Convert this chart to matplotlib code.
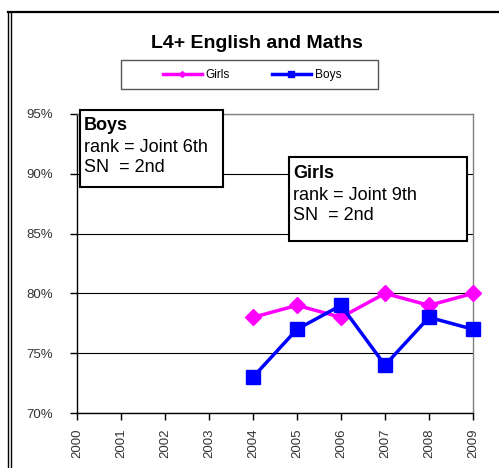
import matplotlib
matplotlib.use('Agg')
from matplotlib import pyplot as plt
from matplotlib.lines import Line2D

plt.rcParams['font.family'] = ['Liberation Sans', 'DejaVu Sans']

# data
years = ['2000', '2001', '2002', '2003', '2004', '2005', '2006', '2007', '2008', '2009']
girl_years = [4, 5, 6, 7, 8, 9]
girls = [78, 79, 78, 80, 79, 80]
boy_years = [4, 5, 6, 7, 8, 9]
boys = [73, 77, 79, 74, 78, 77]
yticks = [70, 75, 80, 85, 90, 95]

W, H = 499, 468
fig = plt.figure(figsize=(W / 100, H / 100), dpi=100)

# outer chart frame (double line on the left, single on top)
for x in [8, 10.5]:
    fig.add_artist(Line2D([x / W, x / W], [0, 1 - 12 / H], color='black', lw=1.0))
fig.add_artist(Line2D([8 / W, 1], [1 - 12 / H, 1 - 12 / H], color='black', lw=1.6))

ax = fig.add_axes([77 / W, 1 - 413 / H, (473 - 77) / W, (413 - 114) / H])

ax.plot(girl_years, girls, color='#ff00ff', lw=2.5, marker='D', ms=8.5, zorder=3, clip_on=False)
ax.plot(boy_years, boys, color='#0000ff', lw=2.5, marker='s', ms=10, zorder=4, clip_on=False)

ax.set_xlim(0, 9)
ax.set_ylim(70, 95)
ax.set_xticks(range(len(years)))
ax.set_xticklabels(years, rotation=90, fontsize=9.5, color='#333333')
ax.set_yticks(yticks)
ax.set_yticklabels([str(v) + '%' for v in yticks], fontsize=9.5, color='#333333')
ax.yaxis.grid(True, color='black', lw=0.8)
ax.set_axisbelow(True)
ax.tick_params(axis='both', direction='out', length=5, width=1, color='black')
ax.tick_params(axis='y', pad=12)
ax.tick_params(axis='x', pad=6)
ax.spines['top'].set_color('#808080')
ax.spines['right'].set_color('#808080')
ax.spines['left'].set_color('black')
ax.spines['bottom'].set_color('black')
for s in ax.spines.values():
    s.set_linewidth(1.0)

fig.text(257 / W, 1 - 43 / H, 'L4+ English and Maths', ha='center', va='center',
         fontsize=14, fontweight='bold')

# legend box
fig.add_artist(plt.Rectangle((121 / W, 1 - 89 / H), (378 - 121) / W, (89 - 60) / H,
                             facecolor='white', edgecolor='#555555', lw=1.0))
handles = [Line2D([], [], color='#ff00ff', lw=2.5, marker='D', ms=3),
           Line2D([], [], color='#0000ff', lw=2.5, marker='s', ms=4)]
leg = fig.legend(handles, ['Girls', 'Boys'], loc='center', ncol=2,
                 bbox_to_anchor=(252 / W, 1 - 75 / H), fontsize=8.6,
                 frameon=False, columnspacing=3.5, handlelength=3.3, handletextpad=0.3)

# text boxes
for (x0, y0, x1, y1) in [(80, 110, 223, 187), (289, 157, 467, 241)]:
    fig.add_artist(plt.Rectangle((x0 / W, 1 - y1 / H), (x1 - x0) / W, (y1 - y0) / H,
                                 facecolor='white', edgecolor='black', lw=1.5, zorder=5))
fig.text(84 / W, 1 - 125 / H, 'Boys', ha='left', va='center', fontsize=13, fontweight='bold', zorder=6)
fig.text(84 / W, 1 - 147 / H, 'rank = Joint 6th', ha='left', va='center', fontsize=13, zorder=6)
fig.text(84 / W, 1 - 168 / H, 'SN  = 2nd', ha='left', va='center', fontsize=13, zorder=6)
fig.text(293 / W, 1 - 173 / H, 'Girls', ha='left', va='center', fontsize=13, fontweight='bold', zorder=6)
fig.text(293 / W, 1 - 195 / H, 'rank = Joint 9th', ha='left', va='center', fontsize=13, zorder=6)
fig.text(293 / W, 1 - 216 / H, 'SN  = 2nd', ha='left', va='center', fontsize=13, zorder=6)

fig.savefig('out.png', dpi=100, facecolor='white')
